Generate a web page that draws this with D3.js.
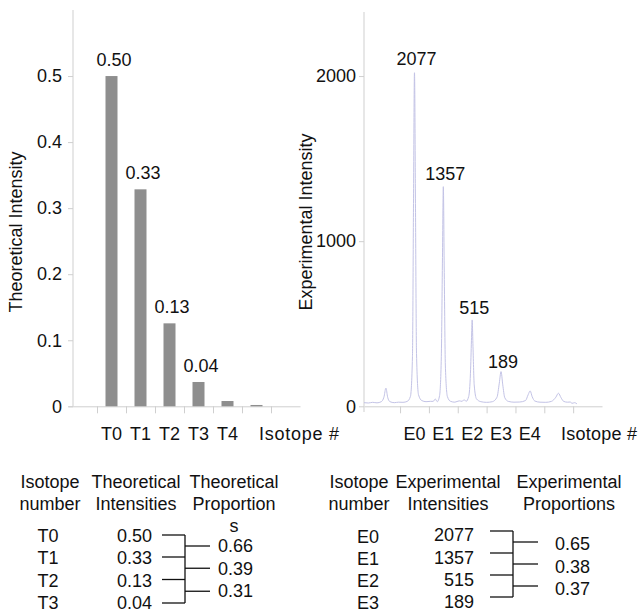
<!DOCTYPE html>
<html>
<head>
<meta charset="utf-8">
<script src="https://cdn.jsdelivr.net/npm/d3@7"></script>
<style>
  body{margin:0;background:#fff;}
  svg text{font-family:"Liberation Sans",Arial,sans-serif;font-size:18px;fill:#111;}
</style>
</head>
<body>
<div id="chart"></div>
<script>
// theoretical bars
const theoLabels=["T0","T1","T2","T3","T4","T5"];
const theoValues=[0.5,0.3285,0.1256,0.0368,0.008,0.002];
const theoShown=["0.50","0.33","0.13","0.04"];
const theoTicks=[0,0.1,0.2,0.3,0.4,0.5];

// experimental spectrum (isotope index, intensity)
const expLabels=["E0","E1","E2","E3","E4"];
const expPeakText=["2077","1357","515","189"];
const expPeakHeights=[2020,1330,523,210];
const expTicks=[0,1000,2000];
const spectrum=[
  [-1.75,22],[-1.6,20],[-1.45,24],[-1.3,21],[-1.15,28],[-1.06,55],[-0.99,110],[-0.93,55],[-0.85,28],
  [-0.7,22],[-0.55,25],[-0.4,24],[-0.25,30],[-0.14,60],[-0.07,300],[-0.035,1200],[0,2020],[0.035,1200],
  [0.07,320],[0.14,70],[0.25,35],[0.4,28],[0.55,30],[0.65,30],[0.72,44],[0.79,28],[0.87,65],[0.93,300],
  [0.97,900],[1.0,1330],[1.03,850],[1.07,250],[1.14,60],[1.25,30],[1.4,25],[1.55,33],[1.65,30],[1.72,40],
  [1.79,30],[1.88,60],[1.94,200],[1.975,400],[2.0,523],[2.025,380],[2.07,130],[2.15,45],[2.3,28],
  [2.5,24],[2.7,28],[2.86,55],[2.94,140],[3.0,210],[3.06,130],[3.13,52],[3.25,30],[3.45,25],[3.65,26],
  [3.85,35],[3.94,70],[4.01,93],[4.08,58],[4.17,32],[4.35,25],[4.55,24],[4.75,30],[4.9,55],
  [4.99,79],[5.08,52],[5.17,30],[5.3,25],[5.4,26],[5.46,18],[5.55,22],[5.63,15]
];

// proportion tables
const theoRows=["T0","T1","T2","T3"];
const theoIntens=["0.50","0.33","0.13","0.04"];
const theoProps=["0.66","0.39","0.31"];
const expRows=["E0","E1","E2","E3"];
const expIntens=["2077","1357","515","189"];
const expProps=["0.65","0.38","0.37"];

const W=638,H=613;
const svg=d3.select("#chart").append("svg").attr("width",W).attr("height",H);
const axisCol="#cfcfcf";

function styleAxis(g){
  g.selectAll("path,line").attr("stroke",axisCol);
  g.selectAll("text").attr("fill","#111").style("font-size","18px")
   .style("font-family","'Liberation Sans',Arial,sans-serif");
}

// ---------- left panel ----------
const x1=d3.scaleLinear().domain([-1.5,6.5]).range([68,300]);
const y1=d3.scaleLinear().domain([0,0.6]).range([406.3,10]);

svg.append("g").attr("transform","translate(0,406.3)")
  .call(d3.axisBottom(x1).tickValues(d3.range(-0.5,6,1)).tickFormat("").tickSize(7).tickSizeOuter(0))
  .call(styleAxis);
svg.append("g").attr("transform","translate(73,0)")
  .call(d3.axisLeft(y1).tickValues(theoTicks).tickFormat(d=>d===0?"0":d.toFixed(1)).tickSize(5).tickPadding(6).tickSizeOuter(0))
  .call(styleAxis)
  .call(g=>g.select(".domain").attr("d","M0,406.3V10"));

svg.append("g").selectAll("rect").data(theoValues).join("rect")
  .attr("x",(d,i)=>x1(i)-6).attr("width",12)
  .attr("y",d=>y1(d)).attr("height",d=>y1(0)-y1(d))
  .attr("fill","#8e8e8e");

svg.append("g").selectAll("text").data(theoShown).join("text")
  .attr("x",(d,i)=>x1(i)+2.5).attr("y",(d,i)=>y1(theoValues[i])-10)
  .attr("text-anchor","middle").text(d=>d);

svg.append("g").selectAll("text").data(theoLabels.slice(0,5)).join("text")
  .attr("x",(d,i)=>x1(i)).attr("y",440).attr("text-anchor","middle").text(d=>d);
svg.append("text").attr("x",259).attr("y",440).attr("textLength",80).text("Isotope #");
svg.append("text").attr("transform","translate(22,232) rotate(-90)")
  .attr("text-anchor","middle").text("Theoretical Intensity");

// ---------- right panel ----------
const x2=d3.scaleLinear().domain([-1.75,6.5]).range([364,602]);
const y2=d3.scaleLinear().domain([0,2400]).range([406.3,10]);

svg.append("g").attr("transform","translate(0,406.3)")
  .call(d3.axisBottom(x2).tickValues(d3.range(-0.5,6,1)).tickFormat("").tickSize(7).tickSizeOuter(0))
  .call(styleAxis);
svg.append("g").attr("transform","translate(364,0)")
  .call(d3.axisLeft(y2).tickValues(expTicks).tickFormat(d3.format("d")).tickSize(5).tickPadding(3).tickSizeOuter(0))
  .call(styleAxis)
  .call(g=>g.select(".domain").attr("d","M0,412V12"));

svg.append("path").datum(spectrum)
  .attr("fill","none").attr("stroke","#c3c3e6").attr("stroke-width",1)
  .attr("d",d3.line().x(d=>x2(d[0])).y(d=>y2(d[1])).curve(d3.curveMonotoneX));

svg.append("g").selectAll("text").data(expPeakText).join("text")
  .attr("x",(d,i)=>x2(i)+2).attr("y",(d,i)=>y2(expPeakHeights[i])-[8,7,6,4][i])
  .attr("text-anchor","middle").text(d=>d);

svg.append("g").selectAll("text").data(expLabels).join("text")
  .attr("x",(d,i)=>x2(i)).attr("y",440).attr("text-anchor","middle").text(d=>d);
svg.append("text").attr("x",561).attr("y",440).attr("textLength",76).text("Isotope #");
svg.append("text").attr("transform","translate(312,222) rotate(-90)")
  .attr("text-anchor","middle").text("Experimental Intensity");

// ---------- tables ----------
function table(o){
  const g=svg.append("g");
  o.head.forEach(h=>h.lines.forEach((t,k)=>g.append("text")
    .attr("x",h.x).attr("y",488+22*k).attr("text-anchor","middle").text(t)));
  o.rows.forEach((t,i)=>g.append("text").attr("x",o.rowX).attr("y",o.rowY[i])
    .attr("text-anchor","middle").text(t));
  o.vals.forEach((t,i)=>g.append("text").attr("x",o.valX).attr("y",o.valY[i])
    .attr("text-anchor","end").text(t));
  const ln=(a,b,c,d)=>g.append("line").attr("x1",a).attr("y1",b).attr("x2",c).attr("y2",d)
    .attr("stroke","#111").attr("stroke-width",1.3);
  o.lineY.forEach(y=>ln(o.b0,y,o.b1,y));
  ln(o.b1,o.lineY[0],o.b1,o.lineY[3]);
  o.props.forEach((t,i)=>{
    const ym=(o.lineY[i]+o.lineY[i+1])/2;
    ln(o.b1,ym,o.b2,ym);
    g.append("text").attr("x",o.propX).attr("y",o.propY[i]).text(t);
  });
}

table({
  head:[{x:50,lines:["Isotope","number"]},{x:136,lines:["Theoretical","Intensities"]},
        {x:234,lines:["Theoretical","Proportion","s"]}],
  rows:theoRows,rowX:48,rowY:[542,564,587,609],
  vals:theoIntens,valX:152,valY:[542,564,587,609],
  lineY:[535,557,579.5,603],b0:162,b1:185,b2:210,
  props:theoProps,propX:218,propY:[552,574.5,597]
});
table({
  head:[{x:359,lines:["Isotope","number"]},{x:448,lines:["Experimental","Intensities"]},
        {x:569,lines:["Experimental","Proportions"]}],
  rows:expRows,rowX:368,rowY:[543,565,587,609],
  vals:expIntens,valX:474,valY:[541,563.5,586,608],
  lineY:[531,553,575,597],b0:490,b1:513,b2:538,
  props:expProps,propX:555,propY:[550,573,595]
});
</script>
</body>
</html>
